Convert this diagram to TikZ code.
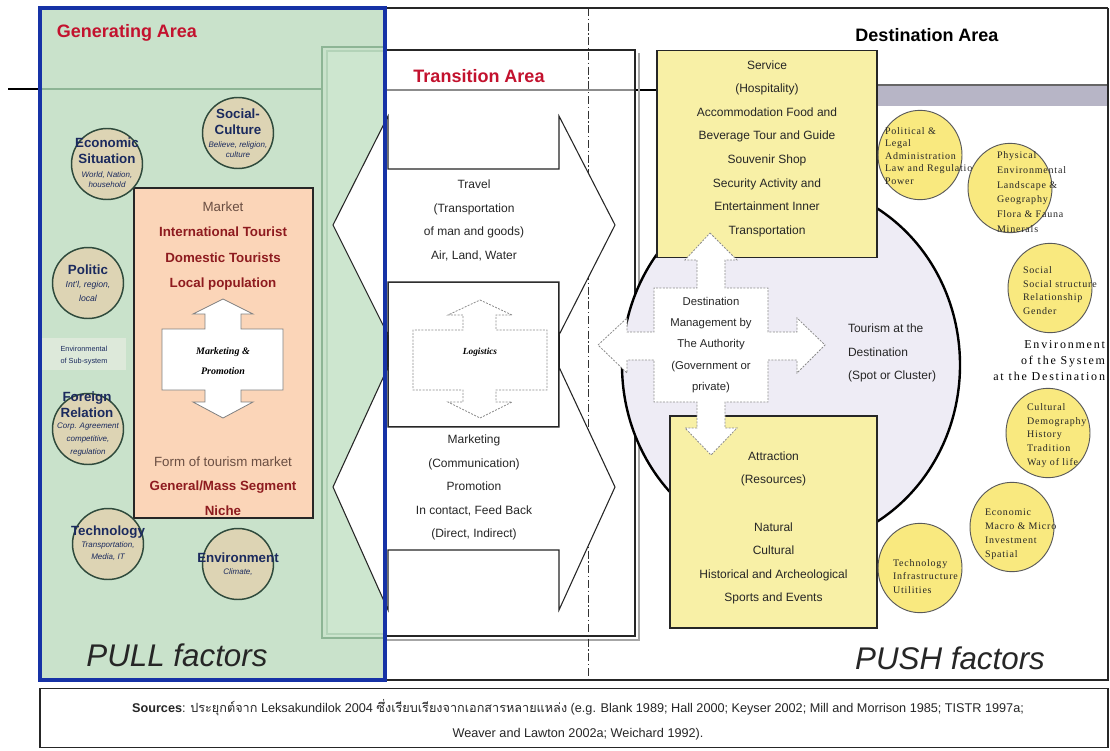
\documentclass[tikz,border=0pt]{standalone}
\usepackage{fontspec}
\setmainfont{Liberation Sans}
\newfontfamily\thaifont[Script=Thai]{Loma}
\newfontfamily\circfont[LetterSpace=8]{Liberation Serif}
\newfontfamily\envfont[LetterSpace=15]{Liberation Serif}
\newfontfamily\romanfont{Liberation Serif}
\usetikzlibrary{shapes.geometric}

\definecolor{genfill}{HTML}{C9E2CB}
\definecolor{stripfill}{HTML}{CDE6CF}
\definecolor{stripedge}{HTML}{8DB595}
\definecolor{stripinner}{HTML}{B3D3B8}
\definecolor{frameblue}{HTML}{1632A6}
\definecolor{marketfill}{HTML}{FBD5B8}
\definecolor{deepred}{HTML}{8E1B1F}
\definecolor{titlered}{HTML}{C3122E}
\definecolor{tanfill}{HTML}{DDD4B4}
\definecolor{tanedge}{HTML}{2F4A3C}
\definecolor{navy}{HTML}{1B2A5E}
\definecolor{brownish}{HTML}{6A4E42}
\definecolor{servfill}{HTML}{F8F0A6}
\definecolor{yfill}{HTML}{F9E97F}
\definecolor{lavender}{HTML}{EEECF5}
\definecolor{barfill}{HTML}{B7B5C6}
\definecolor{subbox}{HTML}{DDE9DA}

\begin{document}
\begin{tikzpicture}[x=0.75pt,y=-0.75pt,
  every node/.style={inner sep=0pt,outer sep=0pt},
  areatitle/.style={font=\bfseries\fontsize{13.5}{16}\selectfont},
  body/.style={font=\fontsize{9}{17.7}\selectfont, text=black!85, align=center},
  crossbody/.style={font=\fontsize{8.5}{16.1}\selectfont, text=black!85, align=center},
  mkline/.style={font=\fontsize{10}{12}\selectfont, text=brownish},
  mkbold/.style={font=\bfseries\fontsize{10}{12}\selectfont, text=deepred},
  tancirc/.style={circle, draw=tanedge, line width=1.1pt, fill=tanfill, minimum size=53.25pt},
  ctitle/.style={font=\bfseries\fontsize{10}{12}\selectfont, text=navy, align=center},
  csub/.style={font=\itshape\fontsize{6}{7.5}\selectfont, text=navy, align=center},
  ycirc/.style={ellipse, draw=black!65, line width=0.7pt, fill=yfill, minimum width=63pt, minimum height=67pt},
  ytext/.style={font=\circfont\fontsize{7.5}{9.4}\selectfont, text=black!85, align=left, anchor=west},
  hexarrow/.style={draw=black!85, fill=white, line width=0.8pt, line join=miter},
  dasharrow/.style={draw=black!45, fill=white, line width=0.6pt, dash pattern=on 1.5pt off 1pt},
  softarrow/.style={draw=black!50, fill=white, line width=0.6pt},
  yellowbox/.style={draw=black!85, fill=servfill, line width=0.8pt},
  factors/.style={font=\itshape\fontsize{23.5}{28}\selectfont, text=black!85}
]
\fill[white] (0,0) rectangle (1110,750);
\useasboundingbox (0,0) rectangle (1110,750);

% ---------- generating area background ----------
\fill[genfill] (40,8) rectangle (385,680);
\fill[stripfill] (326,50) rectangle (385,636);
\fill[white] (385,50) rectangle (636,636);

% ---------- horizontal divider ----------
\draw[black, line width=1pt] (8,89) -- (40,89);
\draw[stripedge, line width=0.8pt] (40,89) -- (322,89);
\draw[black!45, line width=0.8pt] (385,90) -- (636,90);
\draw[black, line width=1.2pt] (636,90) -- (657,90);
\fill[barfill] (877,85) rectangle (1108,106);
\draw[black!60, line width=1.2pt] (877,85) -- (1108,85);

% ---------- transition frame ----------
\draw[stripedge, line width=1.5pt] (385,47) -- (322,47) -- (322,638) -- (385,638);
\draw[stripinner, line width=1pt] (385,51) -- (327,51) -- (327,634) -- (385,634);
\draw[black!85, line width=1.5pt] (385,50) -- (635,50) -- (635,636) -- (385,636);
\draw[black!35, line width=1pt] (639,53) -- (639,640) -- (385,640);

% dash-dot separator
\draw[black!80, line width=0.7pt, dash pattern=on 6pt off 2pt on 1pt off 2pt] (588,8) -- (588,680);

% ---------- destination ellipse ----------
\draw[fill=lavender, line width=1.8pt] (791,365) ellipse [x radius=169, y radius=182];

% ---------- service and attraction boxes ----------
\node[yellowbox, minimum width=165pt, minimum height=155.25pt] (service) at (767,154) {};
\node[body] (serviceT) at (767,148.5) {Service\\(Hospitality)\\Accommodation Food and\\Beverage Tour and Guide\\Souvenir Shop\\Security Activity and\\Entertainment Inner\\Transportation};
\node[yellowbox, minimum width=155.25pt, minimum height=159pt] (attraction) at (773.5,522) {};
\node[body] (attractionT) at (773.5,528) {Attraction\\(Resources)\\[0pt]\mbox{}\\Natural\\Cultural\\Historical and Archeological\\Sports and Events};

% ---------- destination management cross ----------
\draw[dasharrow] (710,233) -- (737,260) -- (725,260) -- (725,288) -- (768,288) -- (768,332)
  -- (797,332) -- (797,318) -- (825,345) -- (797,373) -- (797,360) -- (768,360) -- (768,402)
  -- (725,402) -- (725,428) -- (737,428) -- (711,455) -- (685,428) -- (697,428) -- (697,402)
  -- (654,402) -- (654,360) -- (627,360) -- (627,373) -- (598,345) -- (627,318) -- (627,332)
  -- (654,332) -- (654,288) -- (697,288) -- (697,260) -- (685,260) -- cycle;
\node[crossbody] (mgmt) at (711,345) {Destination\\Management by\\The Authority\\(Government or\\private)};
\node[body, align=left, anchor=west] (tourism) at (848,353) {Tourism at the\\Destination\\(Spot or Cluster)};

% ---------- transition arrows ----------
\fill[white] (388,282) rectangle (559,427);
\draw[black!85, line width=0.8pt] (388,282) rectangle (559,427);
\draw[hexarrow] (388,116) -- (388,169) -- (559,169) -- (559,116) -- (615,225) -- (559,335)
  -- (559,282) -- (388,282) -- (388,335) -- (333,225) -- cycle;
\draw[hexarrow] (388,367) -- (388,427) -- (559,427) -- (559,367) -- (615,487) -- (559,610)
  -- (559,550) -- (388,550) -- (388,610) -- (333,487) -- cycle;
\draw[dasharrow] (480,300) -- (512,315) -- (496,315) -- (496,330) -- (547,330) -- (547,390)
  -- (496,390) -- (496,402) -- (512,402) -- (480,418) -- (448,402) -- (463,402) -- (463,390)
  -- (413,390) -- (413,330) -- (463,330) -- (463,315) -- (448,315) -- cycle;
\node[font=\romanfont\bfseries\itshape\fontsize{7}{8}\selectfont] (logistics) at (480,352) {Logistics};
\node[body] (travel) at (474,220.5) {Travel\\(Transportation\\of man and goods)\\Air, Land, Water};
\node[body] (marketing) at (474,487.5) {Marketing\\(Communication)\\Promotion\\In contact, Feed Back\\(Direct, Indirect)};

% ---------- market box ----------
\node[draw=black!85, fill=marketfill, line width=0.8pt, minimum width=134.25pt, minimum height=247.5pt] (market) at (223.5,353) {};
\node[mkline] (mk1) at (223,207) {Market};
\node[mkbold] (mk2) at (223,232) {International Tourist};
\node[mkbold] (mk3) at (223,258) {Domestic Tourists};
\node[mkbold] (mk4) at (223,284) {Local population};
\draw[softarrow] (223,299) -- (253,314) -- (241,314) -- (241,329) -- (283,329) -- (283,390)
  -- (241,390) -- (241,402) -- (253,402) -- (223,418) -- (193,402) -- (205,402) -- (205,390)
  -- (162,390) -- (162,329) -- (205,329) -- (205,314) -- (193,314) -- cycle;
\node[font=\romanfont\bfseries\itshape\fontsize{7.5}{15}\selectfont, align=center] (mkpromo) at (223,361) {Marketing \&\\Promotion};
\node[mkline] (mk5) at (223,462) {Form of tourism market};
\node[mkbold] (mk6) at (223,487) {General/Mass Segment};
\node[mkbold] (mk7) at (223,511) {Niche};

% ---------- generating area factors ----------
\node[tancirc] (econ) at (107,164) {};
\node[ctitle] (econT) at (107,151) {Economic\\Situation};
\node[csub] (econS) at (107,180) {World, Nation,\\household};
\node[tancirc] (social) at (238,133) {};
\node[ctitle] (socialT) at (238,121.5) {Social-\\Culture};
\node[csub] (socialS) at (238,150) {Believe, religion,\\culture};
\node[tancirc] (politic) at (88,283) {};
\node[ctitle] (politicT) at (88,270) {Politic};
\node[csub, font=\itshape\fontsize{6.5}{10.5}\selectfont] (politicS) at (88,291) {Int'l, region,\\local};
\fill[subbox] (42,338) rectangle (126,370);
\node[font=\fontsize{5.5}{9}\selectfont, align=center, text=navy] (subsys) at (84,356) {Environmental\\of Sub-system};
\node[tancirc] (foreign) at (88,429) {};
\node[ctitle] (foreignT) at (87,405) {Foreign\\Relation};
\node[csub, font=\itshape\fontsize{6}{9.75}\selectfont] (foreignS) at (88,440) {Corp. Agreement\\competitive,\\regulation};
\node[tancirc] (tech) at (108,544) {};
\node[ctitle] (techT) at (108,532) {Technology};
\node[csub, font=\itshape\fontsize{6}{9}\selectfont] (techS) at (108,551) {Transportation,\\Media, IT};
\node[tancirc] (environ) at (238,564) {};
\node[ctitle] (environT) at (238,558) {Environment};
\node[csub] (environS) at (238,572) {Climate,};

% ---------- destination factors ----------
\node[ycirc] (dpol) at (920,155) {};
\node[ytext] (dpolT) at (885,156) {Political \&\\Legal\\Administration\\Law and Regulation\\Power};
\node[ycirc] (dphys) at (1010,188) {};
\node[ytext, font=\circfont\fontsize{7.5}{11.1}\selectfont] (dphysT) at (997,192) {Physical\\Environmental\\Landscape \&\\Geography\\Flora \& Fauna\\Minerals};
\node[ycirc] (dsoc) at (1050,288) {};
\node[ytext, font=\circfont\fontsize{7.5}{10.25}\selectfont] (dsocT) at (1023,290.5) {Social\\Social structure\\Relationship\\Gender};
\node[font=\envfont\fontsize{9}{12}\selectfont, align=right, anchor=east] (envsys) at (1105,361) {Environment\\of the System\\at the Destination};
\node[ycirc] (dcult) at (1048,433) {};
\node[ytext, font=\circfont\fontsize{7.5}{10.3}\selectfont] (dcultT) at (1027,435.5) {Cultural\\Demography\\History\\Tradition\\Way of life};
\node[ycirc] (decon) at (1012,527) {};
\node[ytext, font=\circfont\fontsize{7.5}{10.5}\selectfont] (deconT) at (985,534) {Economic\\Macro \& Micro\\Investment\\Spatial};
\node[ycirc] (dtech) at (920,568) {};
\node[ytext, font=\circfont\fontsize{7.5}{10.1}\selectfont] (dtechT) at (893,576.5) {Technology\\Infrastructure\\Utilities};

% ---------- area titles ----------
\node[areatitle, text=titlered] (genarea) at (127,33) {Generating Area};
\node[areatitle, text=titlered] (transarea) at (479,76) {Transition Area};
\node[areatitle, text=black] (destarea) at (927,35) {Destination Area};
\node[factors] (pull) at (177,655) {PULL factors};
\node[factors] (push) at (950,658) {PUSH factors};

% ---------- outer frames ----------
\draw[black!85, line width=1.1pt] (385,680) -- (1108,680) -- (1108,8);
\draw[black!85, line width=1.8pt] (385,8) -- (1108,8);
\draw[frameblue, line width=2.4pt] (40,8) rectangle (385,680);

% ---------- sources ----------
\node[draw=black!85, line width=0.8pt, minimum width=801pt, minimum height=44.25pt] (srcbox) at (574,718) {};
\node[font=\fontsize{9.5}{18.75}\selectfont, align=center, text=black!85] (src) at (578,720)
  {\textbf{Sources}: {\thaifont ประยุกต์จาก} Leksakundilok 2004 {\thaifont ซึ่งเรียบเรียงจากเอกสารหลายแหล่ง} (e.g. Blank 1989; Hall 2000; Keyser 2002; Mill and Morrison 1985; TISTR 1997a;\\Weaver and Lawton 2002a; Weichard 1992).};
\end{tikzpicture}
\end{document}
